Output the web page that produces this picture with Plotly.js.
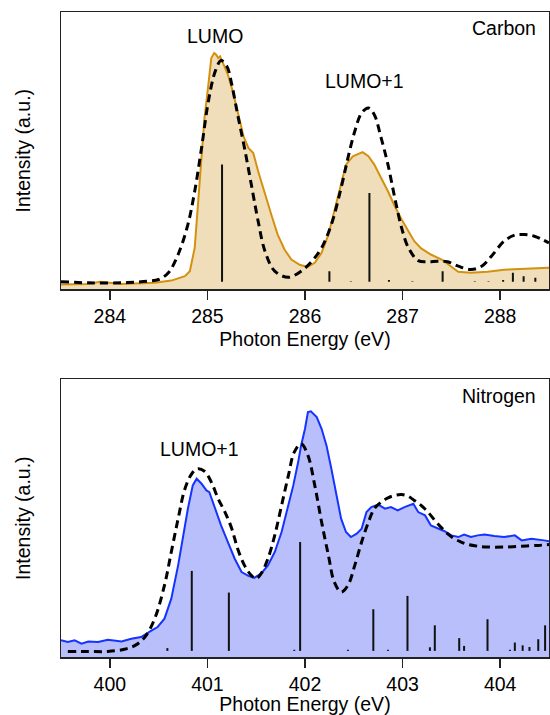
<!DOCTYPE html>
<html>
<head>
<meta charset="utf-8">
<script src="https://cdn.plot.ly/plotly-3.0.1.min.js"></script>
<style>
  html, body { margin: 0; padding: 0; background: #ffffff; }
  #chart { width: 550px; height: 715px; }
</style>
</head>
<body>
<div id="chart"></div>
<script>
// ---------- Carbon K-edge ----------
const carbonExpX = [283.50,283.78,283.90,284.12,284.46,284.63,284.77,284.82,284.87,284.90,284.94,284.97,285.01,285.04,285.07,285.09,285.11,285.13,285.16,285.21,285.26,285.31,285.37,285.42,285.47,285.52,285.59,285.66,285.72,285.79,285.86,285.95,286.03,286.10,286.17,286.24,286.30,286.37,286.42,286.49,286.56,286.59,286.65,286.71,286.78,286.85,286.92,286.99,287.06,287.12,287.19,287.29,287.40,287.50,287.57,287.70,287.87,288.04,288.22,288.35,288.50];
const carbonExpY = [1.8,2.0,2.8,2.0,2.4,3.2,4.8,6.6,15.0,29.4,47.4,61.8,73.8,83.4,85.2,84.6,83.4,84.0,81.6,77.4,71.4,64.2,55.2,51.0,49.2,42.6,34.2,26.4,19.8,14.4,10.8,8.8,8.2,9.6,13.2,19.8,28.2,37.8,45.0,48.0,49.2,49.5,48.0,45.0,40.2,35.4,30.0,25.2,21.0,17.4,14.8,12.6,10.8,8.4,6.4,6.0,6.4,7.1,7.4,7.8,7.8];

const carbonThX = [283.50,283.78,284.12,284.39,284.50,284.60,284.70,284.80,284.87,284.94,285.01,285.08,285.14,285.20,285.25,285.31,285.38,285.45,285.52,285.59,285.69,285.83,285.96,286.07,286.17,286.27,286.37,286.44,286.51,286.58,286.65,286.71,286.78,286.85,286.92,286.99,287.06,287.16,287.26,287.36,287.46,287.57,287.70,287.81,287.91,288.04,288.15,288.25,288.35,288.50];
const carbonThY = [2.8,2.4,2.4,3.0,3.6,6.0,12.6,23.4,35.4,51.0,67.8,78.6,82.5,80.4,73.8,63.0,51.0,37.8,24.6,13.8,6.6,4.4,6.6,10.2,15.0,23.4,36.6,47.4,57.0,63.6,65.4,63.0,54.6,45.0,33.0,22.2,15.0,10.4,10.0,10.2,10.0,8.4,7.2,8.4,12.0,17.4,19.6,19.8,19.2,16.8];

const carbonStickX = [285.15,286.25,286.47,286.66,286.86,287.10,287.41,287.74,287.88,288.03,288.13,288.24,288.36];
const carbonStickH = [45.0,6.6,3.0,34.8,3.4,3.0,6.6,3.0,3.0,3.4,6.0,4.8,4.2];
const carbonStickBase = 2.8;

// ---------- Nitrogen K-edge ----------
const nitroExpX = [399.50,399.57,399.64,399.71,399.78,399.88,399.98,400.12,400.22,400.32,400.43,400.49,400.56,400.63,400.70,400.75,400.80,400.85,400.89,400.94,400.99,401.02,401.08,401.14,401.21,401.28,401.35,401.42,401.48,401.55,401.62,401.69,401.76,401.83,401.88,401.93,401.96,402.00,402.03,402.06,402.12,402.17,402.22,402.27,402.32,402.37,402.42,402.47,402.53,402.58,402.63,402.68,402.75,402.82,402.88,402.95,403.02,403.11,403.16,403.23,403.29,403.36,403.43,403.50,403.57,403.63,403.70,403.77,403.84,403.94,404.04,404.15,404.22,404.32,404.39,404.45,404.50];
const nitroExpY = [6.0,5.4,6.0,4.8,5.6,5.4,6.2,5.6,6.6,7.2,9.6,10.8,13.8,21.0,33.0,43.8,53.4,61.8,64.2,62.4,60.0,59.4,53.4,47.4,41.4,35.4,30.6,29.2,28.5,30.0,33.0,37.8,45.0,54.6,61.8,70.2,76.2,82.2,88.2,88.5,86.4,82.2,76.2,67.8,58.2,49.8,45.0,43.2,44.4,46.2,52.2,54.0,54.9,53.4,54.0,52.8,54.0,55.2,52.2,51.0,47.4,46.2,45.3,43.8,43.2,44.1,43.2,43.8,44.1,43.6,43.2,43.8,42.0,42.6,42.4,42.0,41.7];

const nitroThX = [399.57,399.78,399.98,400.15,400.26,400.36,400.46,400.56,400.63,400.70,400.77,400.84,400.90,400.97,401.04,401.11,401.18,401.25,401.31,401.38,401.45,401.50,401.55,401.62,401.69,401.76,401.83,401.89,401.96,402.03,402.10,402.17,402.24,402.30,402.37,402.44,402.51,402.58,402.65,402.71,402.78,402.85,402.92,402.99,403.05,403.12,403.19,403.26,403.33,403.40,403.46,403.53,403.60,403.67,403.77,403.87,404.04,404.22,404.39,404.50];
const nitroThY = [2.0,2.0,2.0,2.8,4.2,7.2,13.8,25.8,37.8,49.8,60.6,66.0,67.8,66.9,63.0,57.0,52.2,46.2,39.0,33.0,29.4,28.2,30.0,35.4,43.8,54.6,65.4,73.8,76.8,72.6,61.8,48.6,36.6,27.0,23.4,25.8,33.0,41.4,48.6,53.4,55.8,57.3,58.2,58.5,58.0,56.4,54.6,52.2,49.2,46.5,44.4,42.6,41.4,40.5,39.9,39.6,39.6,39.9,40.2,40.5];

const nitroStickX = [400.59,400.84,401.22,401.89,401.95,402.44,402.70,402.85,403.05,403.28,403.33,403.58,403.63,403.87,404.10,404.15,404.23,404.30,404.39,404.46];
const nitroStickH = [3.2,31.0,23.2,2.6,41.4,2.6,17.2,2.6,22.0,3.5,11.4,6.8,4.0,13.6,2.6,5.2,4.2,3.6,6.4,11.4];
const nitroStickBase = 2.2;

const tickValsC = [284, 285, 286, 287, 288];
const tickValsN = [400, 401, 402, 403, 404];

// ---------- styling ----------
const FONT = 'Liberation Sans, Arial, Helvetica, sans-serif';
const FS = 19.5;
const orangeLine = '#d4910f';
const orangeFill = 'rgba(240,222,186,1)';
const blueLine = '#1533ff';
const blueFill = 'rgba(184,191,250,1)';

function stickSegments(xs, hs, base) {
  const X = [], Y = [];
  xs.forEach((x, i) => { X.push(x, x, null); Y.push(base, hs[i], null); });
  return { X, Y };
}
const cS = stickSegments(carbonStickX, carbonStickH, carbonStickBase);
const nS = stickSegments(nitroStickX, nitroStickH, nitroStickBase);

const traces = [
  { x: carbonExpX, y: carbonExpY, type: 'scatter', mode: 'lines', fill: 'tozeroy',
    fillcolor: orangeFill, line: { color: orangeLine, width: 2 }, xaxis: 'x', yaxis: 'y', name: 'C exp' },
  { x: cS.X, y: cS.Y, type: 'scatter', mode: 'lines', connectgaps: false,
    line: { color: '#111', width: 2 }, xaxis: 'x', yaxis: 'y', name: 'C sticks' },
  { x: carbonThX, y: carbonThY, type: 'scatter', mode: 'lines', line: { color: '#000', width: 3, dash: '8px,5px', shape: 'spline' },
    xaxis: 'x', yaxis: 'y', name: 'C theory' },
  { x: nitroExpX, y: nitroExpY, type: 'scatter', mode: 'lines', fill: 'tozeroy',
    fillcolor: blueFill, line: { color: blueLine, width: 2 }, xaxis: 'x2', yaxis: 'y2', name: 'N exp' },
  { x: nS.X, y: nS.Y, type: 'scatter', mode: 'lines', connectgaps: false,
    line: { color: '#111', width: 2 }, xaxis: 'x2', yaxis: 'y2', name: 'N sticks' },
  { x: nitroThX, y: nitroThY, type: 'scatter', mode: 'lines', line: { color: '#000', width: 3, dash: '8px,5px', shape: 'spline' },
    xaxis: 'x2', yaxis: 'y2', name: 'N theory' }
];

const xAxisBase = {
  showline: true, mirror: true, linecolor: '#222', linewidth: 1.5,
  ticks: 'outside', ticklen: 9, tickwidth: 1.5, tickcolor: '#222',
  showgrid: false, zeroline: false,
  tickfont: { family: FONT, size: FS, color: '#000' },
  automargin: false
};
const yAxisBase = {
  showline: true, mirror: true, linecolor: '#222', linewidth: 1.5,
  ticks: '', showticklabels: false, showgrid: false, zeroline: false,
  range: [0, 100], fixedrange: true, automargin: false
};

const layout = {
  width: 550, height: 715,
  margin: { l: 61, r: 1, t: 12, b: 58 },
  paper_bgcolor: '#ffffff', plot_bgcolor: '#ffffff',
  showlegend: false,
  font: { family: FONT, size: FS, color: '#000' },
  xaxis: Object.assign({}, xAxisBase, {
    range: [283.5, 288.5], tickvals: tickValsC, anchor: 'y',
    title: { text: 'Photon Energy (eV)', font: { family: FONT, size: FS, color: '#000' }, standoff: 6 }
  }),
  yaxis: Object.assign({}, yAxisBase, {
    domain: [0.5698, 1], anchor: 'x',
    title: { text: 'Intensity (a.u.)', font: { family: FONT, size: FS, color: '#000' }, standoff: 23 }
  }),
  xaxis2: Object.assign({}, xAxisBase, {
    range: [399.5, 404.5], tickvals: tickValsN, anchor: 'y2',
    title: { text: 'Photon Energy (eV)', font: { family: FONT, size: FS, color: '#000' }, standoff: 2 }
  }),
  yaxis2: Object.assign({}, yAxisBase, {
    domain: [0, 0.4305], anchor: 'x2',
    title: { text: 'Intensity (a.u.)', font: { family: FONT, size: FS, color: '#000' }, standoff: 23 }
  }),
  annotations: [
    { text: 'LUMO', x: 285.08, y: 91.4, xref: 'x', yref: 'y', showarrow: false, xanchor: 'center', yanchor: 'middle', font: { family: FONT, size: FS, color: '#000' } },
    { text: 'LUMO+1', x: 286.61, y: 75.3, xref: 'x', yref: 'y', showarrow: false, xanchor: 'center', yanchor: 'middle', font: { family: FONT, size: FS, color: '#000' } },
    { text: 'Carbon', x: 288.39, y: 94.2, xref: 'x', yref: 'y', showarrow: false, xanchor: 'right', yanchor: 'middle', font: { family: FONT, size: FS, color: '#000' } },
    { text: 'LUMO+1', x: 400.915, y: 75.0, xref: 'x2', yref: 'y2', showarrow: false, xanchor: 'center', yanchor: 'middle', font: { family: FONT, size: FS, color: '#000' } },
    { text: 'Nitrogen', x: 404.39, y: 94.0, xref: 'x2', yref: 'y2', showarrow: false, xanchor: 'right', yanchor: 'middle', font: { family: FONT, size: FS, color: '#000' } }
  ]
};

Plotly.newPlot('chart', traces, layout, { staticPlot: true, displayModeBar: false });
</script>
</body>
</html>
